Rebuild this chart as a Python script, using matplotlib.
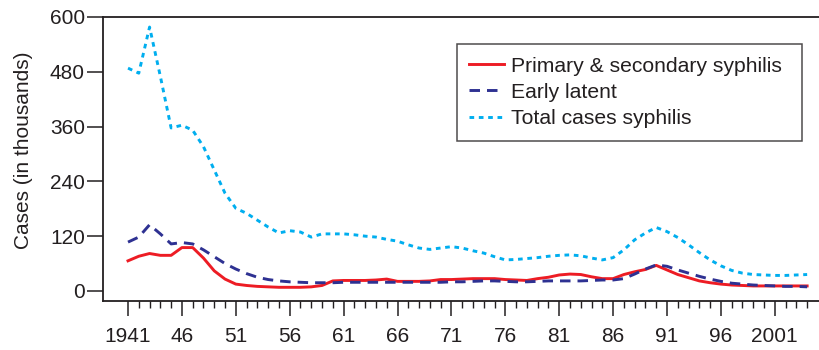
import matplotlib.pyplot as plt
from matplotlib.ticker import FixedLocator

plt.rcParams['font.family'] = ['Liberation Sans', 'DejaVu Sans']

years = list(range(1941, 2005))

# cases in thousands
primary_secondary = [66, 76, 82, 78, 78, 95, 95, 72, 44, 26, 15, 12, 10, 9, 8, 8,
                     8, 9, 12, 22, 23, 23, 23, 24, 26, 21, 21, 21, 22, 25,
                     25, 26, 27, 27, 27, 25, 24, 23, 27, 30, 35, 37, 36, 31,
                     27, 27, 36, 42, 47, 56, 46, 36, 29, 22, 18, 15, 13, 12,
                     11, 11, 11, 11, 11, 11]
early_latent = [107, 118, 145, 125, 103, 106, 103, 90, 75, 60, 48, 38, 30, 25, 22, 20,
                19, 18, 18, 18, 19, 19, 19, 19, 19, 19, 19, 19, 19, 19,
                20, 20, 21, 22, 22, 21, 20, 20, 21, 22, 22, 22, 22, 23,
                24, 24, 27, 37, 48, 57, 54, 46, 39, 32, 26, 21, 17, 15,
                13, 12, 11, 10, 10, 9]
total_cases = [488, 477, 578, 470, 357, 363, 352, 316, 265, 214, 181, 170, 155, 140, 127, 132,
               129, 118, 125, 125, 125, 123, 120, 118, 113, 109, 101, 94, 91, 94,
               97, 94, 88, 83, 75, 68, 69, 71, 73, 76, 78, 79, 77, 72,
               68, 73, 90, 112, 127, 139, 130, 117, 101, 84, 68, 55, 45, 39,
               36, 35, 34, 34, 35, 36]

labels = ['Primary & secondary syphilis', 'Early latent', 'Total cases syphilis']
major_years = list(range(1941, 2002, 5))
major_labels = ['1941'] + [str(y)[2:] for y in major_years[1:-1]] + ['2001']
y_ticks = [0, 120, 240, 360, 480, 600]

ink = '#231F20'
fig = plt.figure(figsize=(8.19, 3.5), dpi=100)
ax = fig.add_axes([103 / 819, 49 / 350, 716 / 819, 284 / 350])

ax.plot(years, primary_secondary, color='#ED1C24', lw=2.1, label=labels[0])
ax.plot(years, early_latent, color='#2E3192', lw=2.1, dashes=(3.6, 2.4), label=labels[1])
ax.plot(years, total_cases, color='#00AEEF', lw=2.1, dashes=(1.6, 1.6), label=labels[2])

ax.set_xlim(1938.68, 2005.1)
ax.set_ylim(-22, 600)

ax.xaxis.set_major_locator(FixedLocator(major_years))
ax.xaxis.set_minor_locator(FixedLocator(years))
ax.set_xticklabels(major_labels)
ax.set_yticks(y_ticks)

ax.tick_params(axis='x', which='major', length=11, width=1.1, pad=7.5, labelsize=15,
               colors=ink)
ax.tick_params(axis='x', which='minor', length=5, width=1.0, colors=ink)
ax.tick_params(axis='y', length=11.5, width=1.1, pad=1.5, labelsize=15, colors=ink)

for side in ['left', 'top', 'bottom']:
    ax.spines[side].set_linewidth(1.3)
    ax.spines[side].set_color(ink)
ax.spines['right'].set_visible(False)

ax.set_ylabel('Cases (in thousands)', fontsize=15, color=ink)
ax.yaxis.set_label_coords(-0.098, 0.53)

leg = ax.legend(loc='upper left', bbox_to_anchor=(0.494, 0.567, 0.482, 0.338),
                mode='expand', borderaxespad=0, fancybox=False, frameon=True,
                fontsize=15.2, handlelength=1.65, handletextpad=0.33,
                labelspacing=0.34, borderpad=0.6)
leg.get_frame().set_edgecolor(ink)
leg.get_frame().set_linewidth(1.1)
for t in leg.get_texts():
    t.set_color(ink)

fig.savefig('out.png', dpi=100)
